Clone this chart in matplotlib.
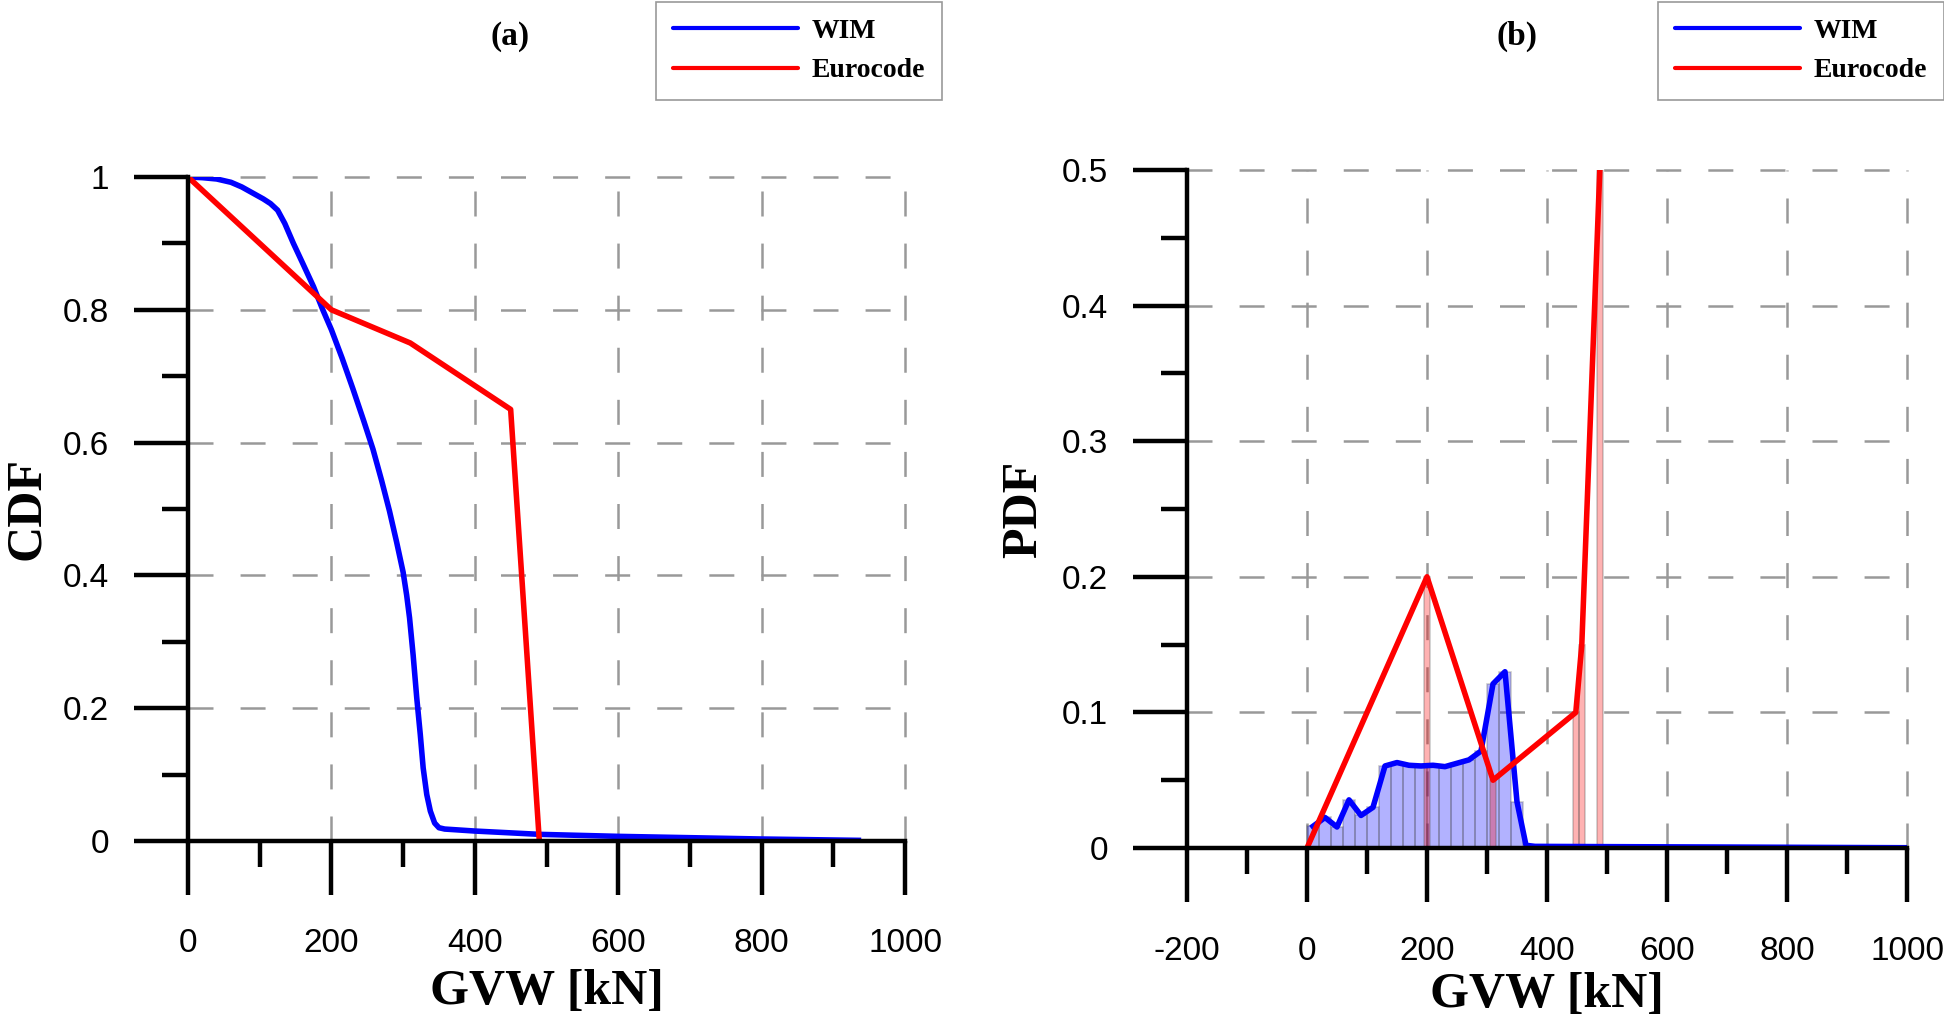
import numpy as np
import matplotlib
matplotlib.use("Agg")
import matplotlib.pyplot as plt
from matplotlib.ticker import MultipleLocator

# ---- data ----
# (a) cumulative distributions
wim_cdf_x = [0, 20, 40, 60, 75, 90, 105, 115, 125, 135, 147, 160, 175, 188,
             200, 215, 230, 245, 258, 270, 281, 291, 300, 305, 309, 314, 319,
             324, 328, 333, 338, 344, 350, 358, 400, 491, 600, 700, 800, 935]
wim_cdf_y = [1.0, 0.999, 0.997, 0.992, 0.985, 0.976, 0.967, 0.96, 0.95, 0.93,
             0.9, 0.87, 0.835, 0.8, 0.77, 0.727, 0.681, 0.633, 0.59, 0.543,
             0.497, 0.45, 0.405, 0.37, 0.336, 0.28, 0.216, 0.16, 0.11, 0.07,
             0.045, 0.027, 0.02, 0.018, 0.015, 0.01, 0.007, 0.005, 0.003, 0.001]
euro_cdf_x = [0, 200, 310, 450, 490]
euro_cdf_y = [1.0, 0.8, 0.75, 0.65, 0.0]

# (b) probability density
wim_bin_centers = [10, 30, 50, 70, 90, 110, 130, 150, 170, 190, 210, 230, 250,
                   270, 290, 310, 330, 350]
wim_pdf = [0.016, 0.0225, 0.0155, 0.0355, 0.024, 0.030, 0.0605, 0.063, 0.061,
           0.0605, 0.061, 0.060, 0.0625, 0.065, 0.0715, 0.121, 0.130, 0.034]
wim_tail_x = [365, 380, 500, 700, 1000]
wim_tail_y = [0.002, 0.0012, 0.001, 0.0007, 0.0002]
euro_pdf_x = [0, 200, 310, 448, 458, 488]
euro_pdf_y = [0.0, 0.2, 0.05, 0.1, 0.15, 0.5]
euro_bar_x = [200, 310, 448, 458, 488]
euro_bar_h = [0.2, 0.05, 0.1, 0.15, 0.5]

plt.rcParams["font.family"] = ["Liberation Sans", "DejaVu Sans"]
plt.rcParams["axes.unicode_minus"] = False

W, H = 1944, 1025
fig = plt.figure(figsize=(W / 100, H / 100), dpi=100)

serif = ["Liberation Serif", "DejaVu Serif"]
grid_lw = 1.8
# dash 25 px, gap 27 px (pattern is scaled by linewidth)
grid_kw = dict(color="#999999", linewidth=grid_lw,
               dashes=(18 / grid_lw, 19.5 / grid_lw), zorder=0)


def style_axes(ax, xmin, xmax, ymax, xmaj, xmin_step, ymaj, ymin_step):
    ax.set_xlim(xmin, xmax)
    ax.set_ylim(0, ymax)
    for s in ["top", "right"]:
        ax.spines[s].set_visible(False)
    for s in ["left", "bottom"]:
        ax.spines[s].set_linewidth(3.2)
        ax.spines[s].set_zorder(5)
    ax.xaxis.set_major_locator(MultipleLocator(xmaj))
    ax.xaxis.set_minor_locator(MultipleLocator(xmin_step))
    ax.yaxis.set_major_locator(MultipleLocator(ymaj))
    ax.yaxis.set_minor_locator(MultipleLocator(ymin_step))
    ax.tick_params(which="major", length=39, width=3.2, labelsize=24)
    ax.tick_params(which="minor", length=19, width=3.2)
    ax.tick_params(axis="y", which="major", pad=18)
    ax.tick_params(axis="x", which="major", pad=24)
    start = 0 if xmin < 0 else xmaj
    for v in np.arange(start, xmax + 1, xmaj):
        ax.axvline(v, **grid_kw)
    for v in np.arange(ymaj, ymax + ymaj / 2, ymaj):
        ax.axhline(v, **grid_kw)
    for ln in ax.lines:
        ln.set_clip_on(False)


fmt = plt.FuncFormatter(lambda v, pos: f"{v:g}")

# ---------------- panel (a) ----------------
ax1 = fig.add_axes([188 / W, 1 - 841 / H, (905 - 188) / W, (841 - 177) / H])
style_axes(ax1, 0, 1000, 1.0, 200, 100, 0.2, 0.1)
ax1.yaxis.set_major_formatter(fmt)
ax1.plot(wim_cdf_x, wim_cdf_y, color="#0000ff", lw=4, zorder=3, label="WIM")
ax1.plot(euro_cdf_x, euro_cdf_y, color="#ff0000", lw=4, zorder=4, label="Eurocode")
ax1.set_xlabel("GVW [kN]", family=serif, weight="bold", fontsize=36)
ax1.set_ylabel("CDF", family=serif, weight="bold", fontsize=36)
ax1.xaxis.set_label_coords(0.5, -(992 - 841) / 664)
ax1.xaxis.label.set_va("center")
ax1.yaxis.set_label_coords(-(188 - 27) / 717, 0.5)
ax1.yaxis.label.set_va("center")

# ---------------- panel (b) ----------------
ax2 = fig.add_axes([1187 / W, 1 - 848 / H, (1907 - 1187) / W, (848 - 170) / H])
style_axes(ax2, -200, 1000, 0.5, 200, 100, 0.1, 0.05)
ax2.yaxis.set_major_formatter(fmt)
ax2.bar(wim_bin_centers, wim_pdf, width=20, color="#0000ff", alpha=0.3,
        edgecolor="#555555", linewidth=1.2, zorder=1)
ax2.bar(euro_bar_x, euro_bar_h, width=10, color="#ff0000", alpha=0.3,
        edgecolor="#555555", linewidth=1.2, zorder=1)
ax2.plot(wim_bin_centers + wim_tail_x, wim_pdf + wim_tail_y, color="#0000ff",
         lw=4, zorder=3, label="WIM")
ax2.plot(euro_pdf_x, euro_pdf_y, color="#ff0000", lw=4, zorder=4, label="Eurocode")
ax2.set_xlabel("GVW [kN]", family=serif, weight="bold", fontsize=36)
ax2.set_ylabel("PDF", family=serif, weight="bold", fontsize=36)
ax2.xaxis.set_label_coords(0.5, -(995 - 848) / 678)
ax2.xaxis.label.set_va("center")
ax2.yaxis.set_label_coords(-(1187 - 1024) / 720, 0.5)
ax2.yaxis.label.set_va("center")

# titles and legends
fig.text(510 / W, 1 - 36 / H, "(a)", family=serif, weight="bold", fontsize=24,
         ha="center", va="center")
fig.text(1517 / W, 1 - 36 / H, "(b)", family=serif, weight="bold", fontsize=24,
         ha="center", va="center")

for ax, left in [(ax1, 656), (ax2, 1658)]:
    leg = ax.legend(loc="upper left", bbox_to_anchor=(left / W, 1 - 2 / H),
                    bbox_transform=fig.transFigure, borderaxespad=0,
                    prop=dict(family=serif, weight="bold", size=20),
                    handlelength=4.5, handletextpad=0.5, labelspacing=0.5,
                    borderpad=0.6, fancybox=False, framealpha=1)
    leg.get_frame().set_edgecolor("#999999")
    leg.get_frame().set_linewidth(1.2)
    for h in leg.get_lines():
        h.set_linewidth(3)
        h.set_solid_capstyle("round")

fig.savefig("out.png", dpi=100)
